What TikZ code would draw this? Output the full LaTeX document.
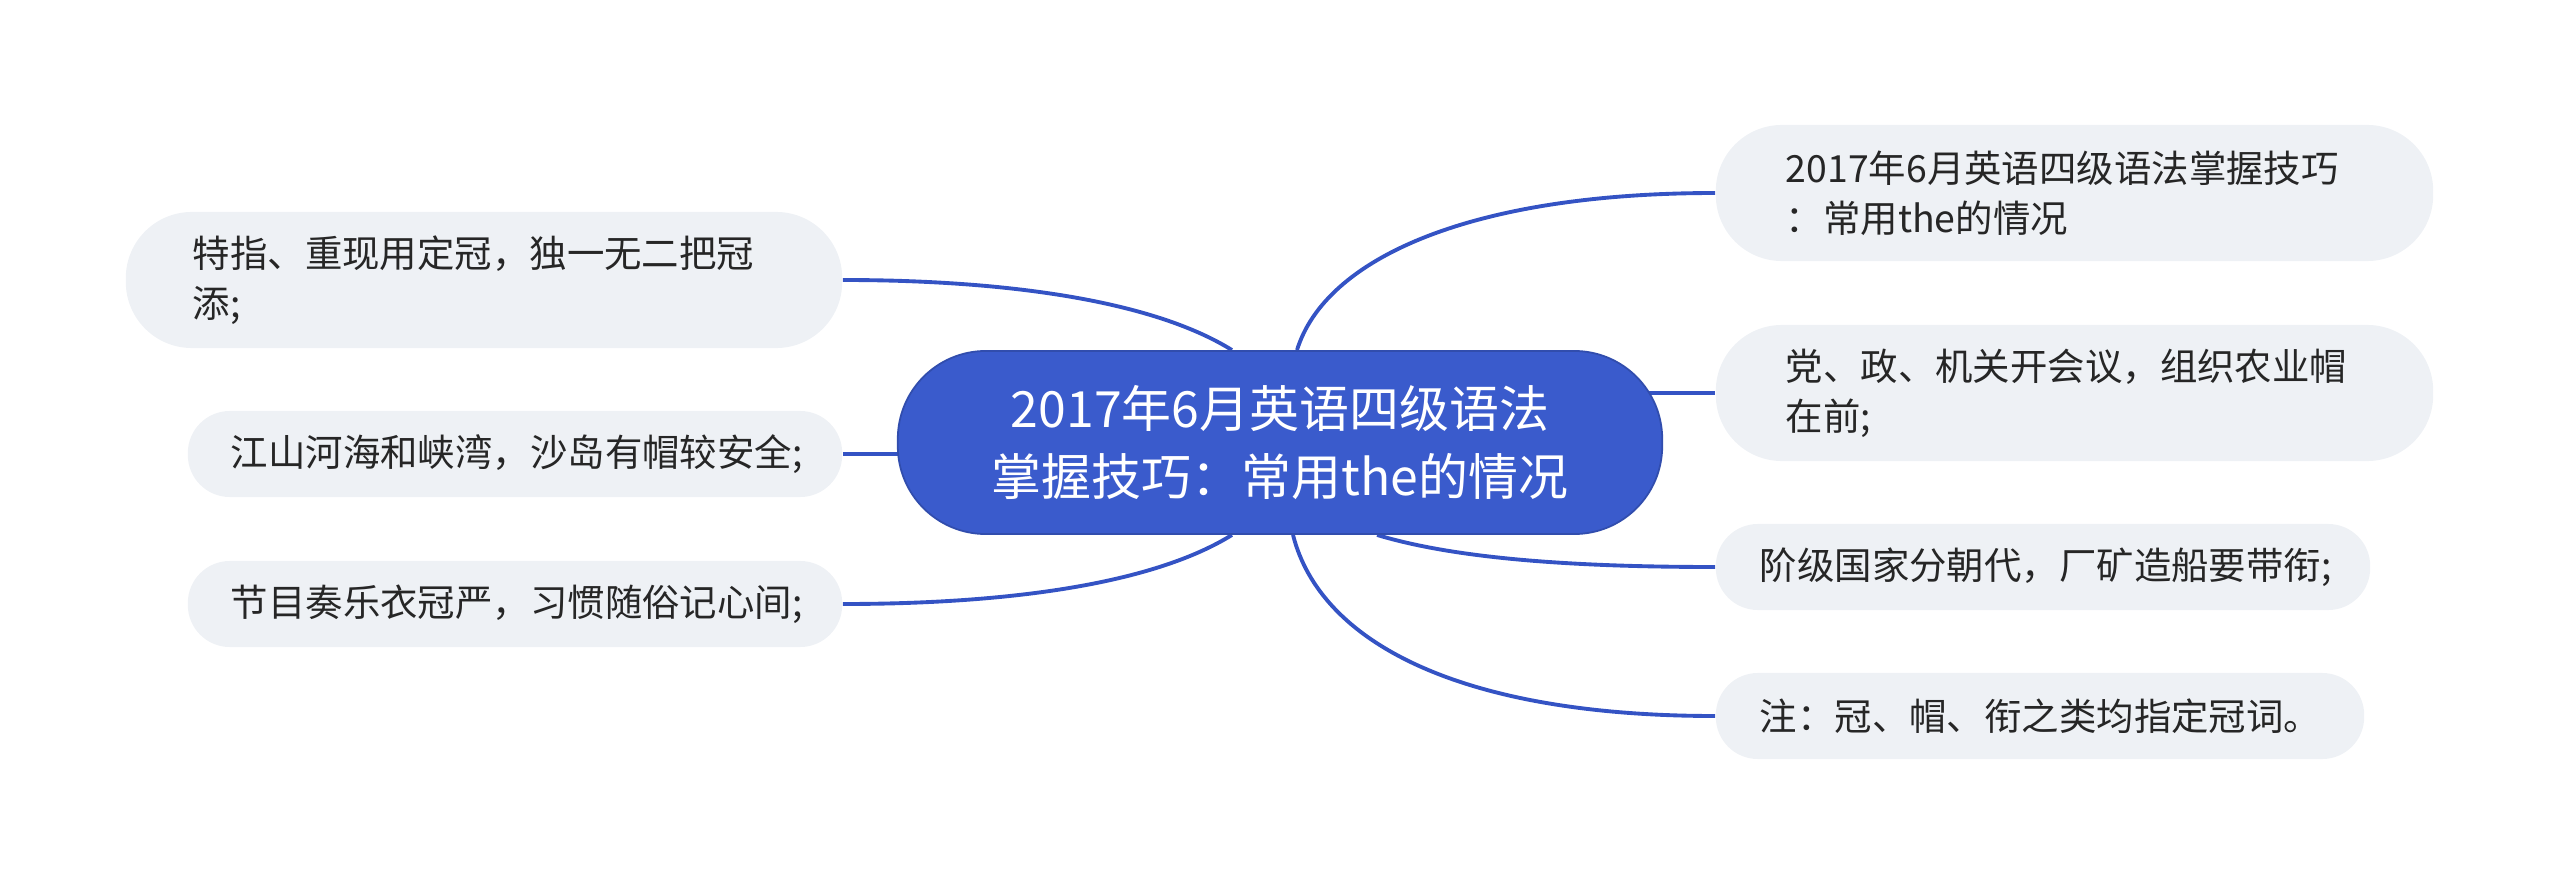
\documentclass[tikz,border=0pt]{standalone}
\usepackage{fontspec}
\newfontfamily\cjk{Noto Sans CJK SC}
\usetikzlibrary{backgrounds}
\definecolor{mainblue}{HTML}{3A5BCC}
\definecolor{linkblue}{HTML}{3453C4}
\definecolor{leafbg}{HTML}{EEF1F5}
\definecolor{leaftext}{HTML}{262626}
\begin{document}
\begin{tikzpicture}[x=0.01cm,y=-0.01cm,
  root/.style={draw=mainblue!85!black, line width=0.5pt, fill=mainblue, text=white,
    rounded corners=0.88cm, minimum width=7.64cm, minimum height=1.83cm,
    align=center, inner sep=0pt, font=\cjk\fontsize{14.2}{19.1}\selectfont},
  leaf/.style={fill=leafbg, text=leaftext, align=left, inner ysep=0pt,
    font=\cjk\fontsize{10.64}{14.2}\selectfont},
  twoline/.style={leaf, minimum height=1.36cm, rounded corners=0.66cm},
  oneline/.style={leaf, minimum height=0.86cm, rounded corners=0.42cm},
  link/.style={draw=linkblue, line width=1.1pt}]
\useasboundingbox (0,0) rectangle (2560,885);

\node[root] (c) at (1280,442.5) {2017年6月英语四级语法\\掌握技巧：常用the的情况};

\node[twoline, inner xsep=0.67cm, text width=5.82cm] (l1) at (484,280) {特指、重现用定冠，独一无二把冠\\添;};
\node[oneline, inner xsep=0.43cm, text width=5.68cm] (l2) at (515,454) {江山河海和峡湾，沙岛有帽较安全;};
\node[oneline, inner xsep=0.43cm, text width=5.68cm] (l3) at (515,604) {节目奏乐衣冠严，习惯随俗记心间;};

\node[twoline, inner xsep=0.70cm, text width=5.77cm] (r1) at (2074.5,193) {2017年6月英语四级语法掌握技巧\\：常用the的情况};
\node[twoline, inner xsep=0.70cm, text width=5.77cm] (r2) at (2074.5,393) {党、政、机关开会议，组织农业帽\\在前;};
\node[oneline, inner xsep=0.44cm, text width=5.66cm] (r3) at (2043,567) {阶级国家分朝代，厂矿造船要带衔;};
\node[oneline, inner xsep=0.44cm, text width=5.60cm] (r4) at (2040,716) {注：冠、帽、衔之类均指定冠词。};

\begin{scope}[on background layer]
\draw[link] ([xshift=0.17cm]c.north) .. controls +(28,-91) and +(-246,0) .. (r1.west);
\draw[link] (c.center |- r2.west) -- (r2.west);
\draw[link] ([xshift=0.97cm]c.south) .. controls +(73,22) and +(-156,0) .. (r3.west);
\draw[link] ([xshift=0.13cm]c.south) .. controls +(27,107) and +(-256,0) .. (r4.west);
\draw[link] (l1.east) .. controls +(157,0) and +(-82,-51) .. ([xshift=-0.48cm]c.north);
\draw[link] (l2.east) -- (c.center |- l2.east);
\draw[link] (l3.east) .. controls +(157,0) and +(-82,51) .. ([xshift=-0.48cm]c.south);
\end{scope}
\end{tikzpicture}
\end{document}
